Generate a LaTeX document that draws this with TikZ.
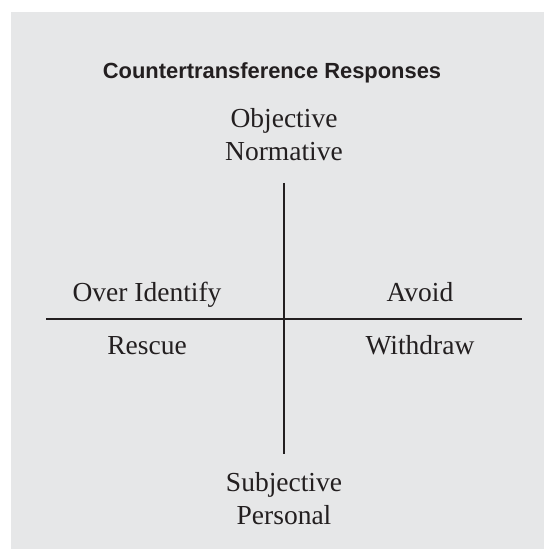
\documentclass[tikz,border=0pt]{standalone}
\usepackage{fontspec}
\setmainfont{Liberation Serif}
\newfontfamily\titlefont{Liberation Sans}
\definecolor{panel}{HTML}{E6E7E8}
\definecolor{ink}{HTML}{231F20}
\begin{document}
\begin{tikzpicture}[x=1pt,y=1pt,
  lbl/.style={anchor=base,inner sep=0pt,text=ink,font=\fontsize{27.5}{33}\selectfont},
  ttl/.style={anchor=base,inner sep=0pt,text=ink,font=\titlefont\bfseries\fontsize{21.9}{26}\selectfont},
  axis/.style={draw=ink,line width=2pt}]
\useasboundingbox (0,0) rectangle (544,549);
\fill[panel] (11,0) rectangle (544,537);
\node[ttl] (title) at (272,470) {Countertransference Responses};
\node[lbl] (obj) at (284,421) {Objective};
\node[lbl] (norm) at (284,388) {Normative};
\node[lbl] (subj) at (284,57) {Subjective};
\node[lbl] (pers) at (284,24) {Personal};
\node[lbl] (over) at (147,247) {Over Identify};
\node[lbl] (avoid) at (420,247) {Avoid};
\node[lbl] (rescue) at (147,194) {Rescue};
\node[lbl] (withdraw) at (420,194) {Withdraw};
\coordinate (vtop) at (284,366);
\coordinate (vbot) at (284,95);
\coordinate (hl) at (46,230);
\coordinate (hr) at (522,230);
\draw[axis] (vtop) -- (vbot);
\draw[axis] (hl) -- (hr);
\end{tikzpicture}
\end{document}
